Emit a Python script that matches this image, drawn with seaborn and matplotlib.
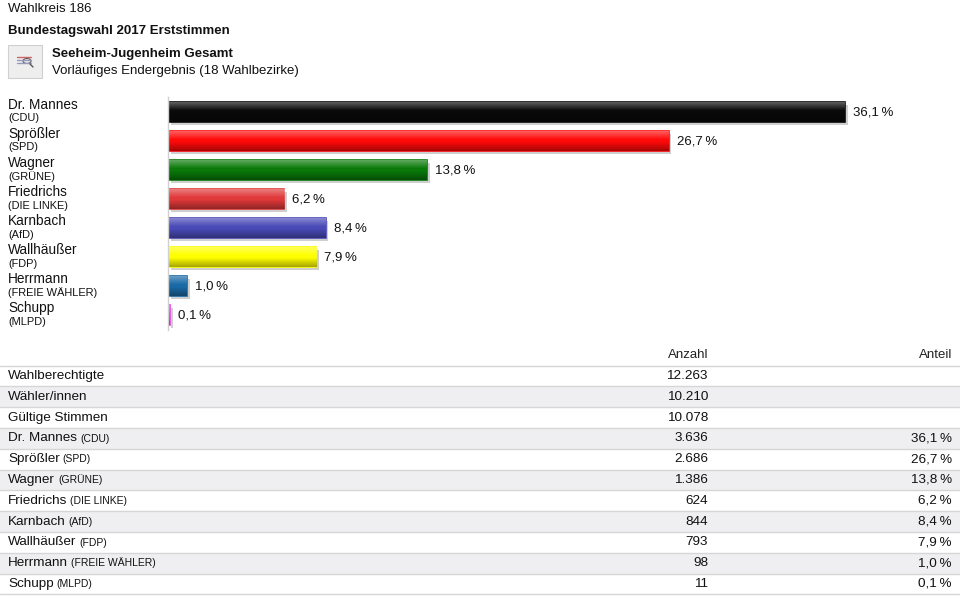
import numpy as np
import pandas as pd
import matplotlib
matplotlib.use("Agg")
import matplotlib.pyplot as plt
import matplotlib.patheffects as pe
from matplotlib.patches import Rectangle, Circle
from matplotlib.transforms import blended_transform_factory
import seaborn as sns

# data
candidates = ["Dr. Mannes", "Sprößler", "Wagner", "Friedrichs", "Karnbach",
              "Wallhäußer", "Herrmann", "Schupp"]
parties = ["CDU", "SPD", "GRÜNE", "DIE LINKE", "AfD", "FDP", "FREIE WÄHLER", "MLPD"]
shares = [36.1, 26.7, 13.8, 6.2, 8.4, 7.9, 1.0, 0.1]
votes = [3636, 2686, 1386, 624, 844, 793, 98, 11]
bar_colors = ["#0a0a0a", "#ff0a0a", "#0a7a0a", "#e0393a", "#4a4ab8",
              "#ffff00", "#1a6aa6", "#e040e0"]
summary_labels = ["Wahlberechtigte", "Wähler/innen", "Gültige Stimmen"]
summary_values = [12263, 10210, 10078]


def de_num(n):
    return f"{n:,}".replace(",", ".")


def de_pct(v):
    return f"{v:.1f}".replace(".", ",") + "\u202f%"


sns.set_theme(style="white")
plt.rcParams["font.family"] = ["Liberation Sans", "DejaVu Sans"]

W, H = 960, 598
fig = plt.figure(figsize=(9.6, 5.98), dpi=100)
fig.patch.set_facecolor("white")


def fx(p):
    return p / W


def fy(p):
    return 1 - p / H


# header
fig.text(fx(8), fy(9), "Wahlkreis 186", fontsize=9.5, va="center", color="#111111")
fig.text(fx(8), fy(31), "Bundestagswahl 2017 Erststimmen", fontsize=9.5,
         fontweight="bold", va="center", color="#111111")
fig.text(fx(52), fy(54), "Seeheim-Jugenheim Gesamt", fontsize=9.5,
         fontweight="bold", va="center", color="#111111")
fig.text(fx(52), fy(71), "Vorläufiges Endergebnis (18 Wahlbezirke)", fontsize=9.5,
         va="center", color="#111111")

# little icon box
fig.patches.append(Rectangle((fx(8), fy(78)), fx(34), (78 - 45) / H,
                             transform=fig.transFigure, facecolor="#eeeeee",
                             edgecolor="#d0d0d0", lw=0.8))
for k, c in enumerate(["#c66", "#99b", "#99b"]):
    fig.lines.append(plt.Line2D([fx(17), fx(31)], [fy(57 + 3 * k)] * 2,
                                transform=fig.transFigure, color=c, lw=1))
fig.patches.append(Circle((fx(27), fy(61)), 4 / W, transform=fig.transFigure,
                          facecolor="none", edgecolor="#555", lw=0.8))
fig.lines.append(plt.Line2D([fx(30), fx(33)], [fy(64), fy(67)],
                            transform=fig.transFigure, color="#555", lw=1))

# bar chart
px_per_pct = (845 - 168) / 36.1
ax = fig.add_axes([fx(168), fy(330), fx(900 - 168), (330 - 97.5) / H])
df = pd.DataFrame({"cand": candidates, "share": shares})
sns.barplot(data=df, x="share", y="cand", hue="cand", palette=bar_colors,
            legend=False, orient="h", width=0.69, saturation=1, ax=ax)

xmax = (900 - 168) / px_per_pct
grad = np.zeros((40, 1, 4))
t = np.linspace(0, 1, 40)
top = np.clip(1 - t / 0.45, 0, 1) * 0.38
bot = np.clip((t - 0.55) / 0.45, 0, 1) * 0.35
grad[:, 0, :3] = np.where(top[:, None] > 0, 1.0, 0.0)
grad[:, 0, 3] = top + bot

for p in ax.patches:
    p.set_edgecolor(p.get_facecolor())
    p.set_linewidth(1.2)
    p.set_path_effects([pe.SimplePatchShadow(offset=(2, -2), shadow_rgbFace="#888888",
                                             alpha=0.4), pe.Normal()])
    x0, y0, w, h = p.get_x(), p.get_y(), p.get_width(), p.get_height()
    im = ax.imshow(grad, extent=(x0, x0 + w, y0 + h, y0), aspect="auto",
                   origin="upper", zorder=p.get_zorder() + 0.1, interpolation="bilinear")
    im.set_clip_path(p)

ax.set_xlim(0, xmax)
ax.set_ylim(len(candidates) - 0.5, -0.5)
ax.set_xticks([])
ax.set_yticks([])
ax.set_xlabel("")
ax.set_ylabel("")
for s in ["top", "right", "bottom"]:
    ax.spines[s].set_visible(False)
ax.spines["left"].set_color("#d0d0d0")
ax.spines["left"].set_linewidth(1)
ax.set_facecolor("none")

for i, v in enumerate(shares):
    ax.text(v + 8 / px_per_pct, i, de_pct(v), va="center", ha="left",
            fontsize=9.5, color="#111111")

trans = blended_transform_factory(fig.transFigure, ax.transData)
for i, (c, pty) in enumerate(zip(candidates, parties)):
    ax.text(fx(8), i - 0.24, c, transform=trans, va="center", fontsize=9.8,
            color="#111111", clip_on=False)
    ax.text(fx(8), i + 0.22, f"({pty})", transform=trans, va="center",
            fontsize=7.9, color="#111111", clip_on=False)

# table
row_h = 20.8
tax = fig.add_axes([0, 0, 1, (598 - 340) / H])
n_rows = len(summary_labels) + len(candidates)
tax.set_xlim(0, W)
tax.set_ylim((598 - 376) / row_h, (340 - 376) / row_h)
tax.axis("off")

row_names = summary_labels + candidates
row_parties = [None] * len(summary_labels) + parties
row_counts = summary_values + votes
row_shares = [None] * len(summary_labels) + shares

tax.text(708, -1, "Anzahl", ha="right", va="center", fontsize=9.5, color="#222222")
tax.text(952, -1, "Anteil", ha="right", va="center", fontsize=9.5, color="#222222")

for r in range(n_rows):
    if r % 2 == 1:
        tax.axhspan(r - 0.5, r + 0.5, color="#efeff1", lw=0, zorder=0)
for r in range(n_rows + 1):
    tax.axhline(r - 0.5, color="#d6d6d6", lw=1, zorder=1)

for r in range(n_rows):
    t_name = tax.text(8, r, row_names[r], ha="left", va="center", fontsize=9.7,
                      color="#111111")
    if row_parties[r]:
        tax.annotate(f"({row_parties[r]})", xy=(1, 0), xycoords=t_name,
                     xytext=(2.2, 0.6), textcoords="offset points", va="bottom",
                     ha="left", fontsize=7.5, color="#111111")
    tax.text(708, r, de_num(row_counts[r]), ha="right", va="center", fontsize=9.7,
             color="#111111")
    if row_shares[r] is not None:
        tax.text(952, r, de_pct(row_shares[r]), ha="right", va="center",
                 fontsize=9.7, color="#111111")

fig.savefig("out.png", dpi=100, facecolor="white")
